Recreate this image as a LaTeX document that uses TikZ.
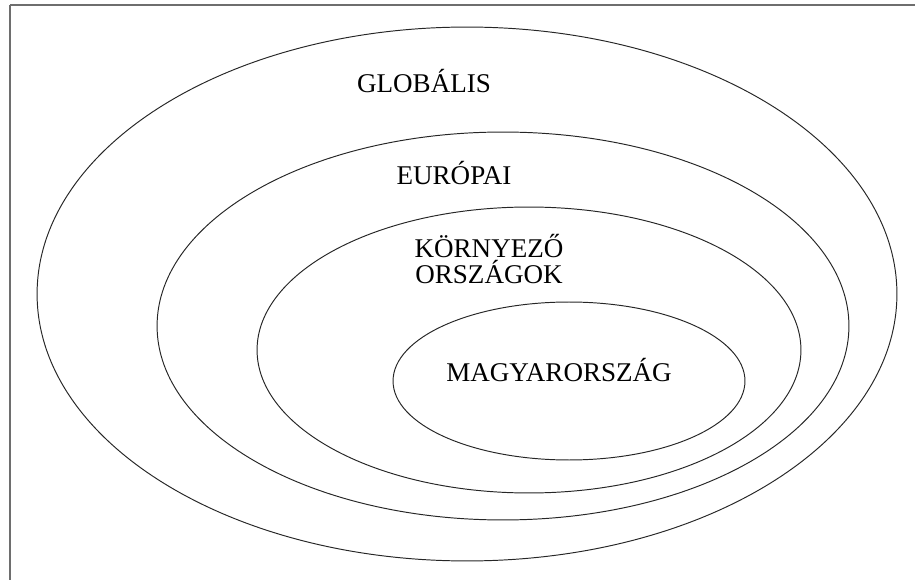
\documentclass[tikz,border=0pt]{standalone}
\usepackage{fontspec}
\setmainfont{Liberation Serif}
\usepackage{tikz}
\definecolor{keret}{RGB}{110,110,110}
\tikzset{korlap/.style={line width=0.55pt,black!85}}

\begin{document}
\begin{tikzpicture}[x=0.02cm,y=0.02cm, node font = \fontsize{15.4}{18}\selectfont]
			\useasboundingbox (0,0) rectangle (915,-580);
			\draw[keret,line width=0.6pt]  (10,-580)-- (10,-5);
			\draw[keret,line width=0.6pt]  (10,-5)-- (915,-5);
			\draw[korlap] (467,-294) ellipse [x radius=8.6cm, y radius=5.34cm];
			\draw[korlap] (503,-326) ellipse [x radius=6.92cm, y radius=3.88cm];
			\draw[korlap] (529,-350) ellipse [x radius=5.44cm, y radius=2.86cm];
			\draw[korlap] (569,-381) ellipse [x radius=3.52cm, y radius=1.58cm];
			\node (globalis) at (424,-81) {GLOBÁLIS};
			\node (europai) at (454,-173) {EURÓPAI};
			\node[align=center] (kornyezo) at (489,-259) {KÖRNYEZŐ\\[-3pt]ORSZÁGOK};
			\node (magyar) at (559,-370) {MAGYARORSZÁG};
		\end{tikzpicture}
\end{document}
